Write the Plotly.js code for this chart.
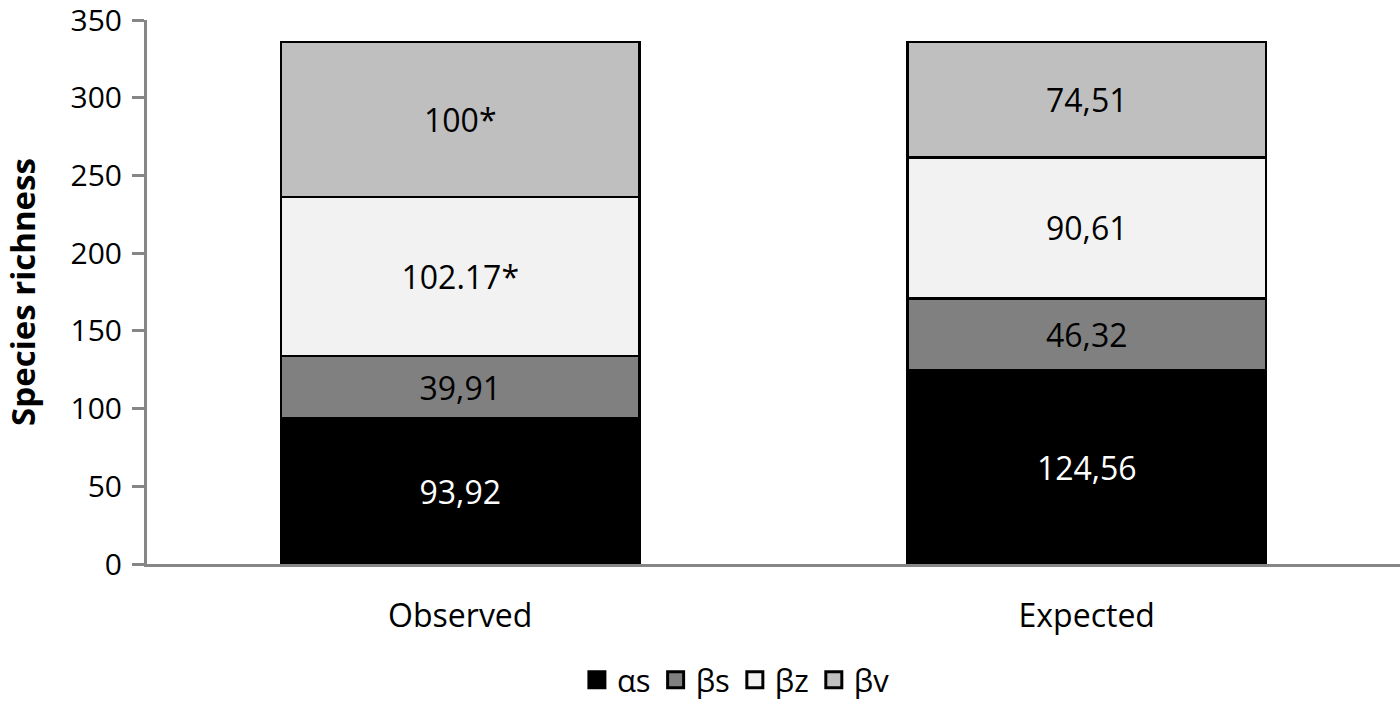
<!DOCTYPE html>
<html><head><meta charset="utf-8">
<script src="https://cdn.plot.ly/plotly-3.0.1.min.js"></script>
<style>html,body{margin:0;padding:0;background:#fff}#c{width:1400px;height:702px}</style>
</head><body><div id="c"></div>
<script>
const categories = ["Observed", "Expected"];
const seriesNames = ["αs", "βs", "βz", "βv"];
const alphaS = [93.92, 124.56];
const betaS = [39.91, 46.32];
const betaZ = [102.17, 90.61];
const betaV = [100, 74.51];
const alphaSLabels = ["93,92", "124,56"];
const betaSLabels = ["39,91", "46,32"];
const betaZLabels = ["102.17*", "90,61"];
const betaVLabels = ["100*", "74,51"];

const values = [alphaS, betaS, betaZ, betaV];
const labels = [alphaSLabels, betaSLabels, betaZLabels, betaVLabels];
const colors = ["#000000", "#808080", "#f2f2f2", "#bfbfbf"];
const textColors = ["#ffffff", "#000000", "#000000", "#000000"];
const FONT = "Open Sans, Noto Sans, sans-serif";

const barTraces = values.map((v, i) => ({
  type: "bar",
  name: seriesNames[i],
  x: categories,
  y: v,
  text: labels[i],
  texttemplate: "%{text}",
  textposition: "inside",
  insidetextanchor: "middle",
  textangle: 0,
  constraintext: "none",
  insidetextfont: {family: FONT, size: 32, color: textColors[i]},
  marker: {color: colors[i], line: {color: "#000000", width: 2.5}},
  showlegend: false,
  hoverinfo: "skip"
}));

// legend-only entries (larger square swatches like the reference)
const legendTraces = seriesNames.map((n, i) => ({
  type: "scatter", mode: "markers", name: n,
  x: [null], y: [null],
  marker: {symbol: "square", size: 20, color: colors[i], line: {color: "#000000", width: 3}},
  showlegend: true, hoverinfo: "skip"
}));

const layout = {
  width: 1400, height: 702,
  margin: {l: 147, r: 0, t: 20, b: 138, autoexpand: false},
  paper_bgcolor: "#ffffff", plot_bgcolor: "#ffffff",
  barmode: "stack",
  bargap: 0.427,
  font: {family: FONT, size: 32, color: "#000"},
  showlegend: true,
  legend: {orientation: "h", x: 0.47, xanchor: "center", y: -0.164, yanchor: "top",
    font: {family: FONT, size: 31, color: "#000"}, traceorder: "normal",
    itemwidth: 30, tracegroupgap: 0},
  xaxis: {
    showline: true, linecolor: "#868686", linewidth: 3,
    ticks: "", showgrid: false, zeroline: false,
    tickfont: {family: FONT, size: 32, color: "#000"},
    ticklabelstandoff: 22
  },
  yaxis: {
    range: [0, 350], dtick: 50, tick0: 0,
    showline: true, linecolor: "#868686", linewidth: 3,
    ticks: "outside", ticklen: 12, tickwidth: 3, tickcolor: "#868686",
    showgrid: false, zeroline: false,
    ticklabeloverflow: "allow",
    ticklabelstandoff: 4,
    tickfont: {family: FONT, size: 30, color: "#000"},
    title: {text: "<b>Species richness</b>", font: {family: FONT, size: 33, color: "#000"}, standoff: 31}
  }
};

Plotly.newPlot("c", barTraces.concat(legendTraces), layout, {displayModeBar: false, staticPlot: true});
</script></body></html>
